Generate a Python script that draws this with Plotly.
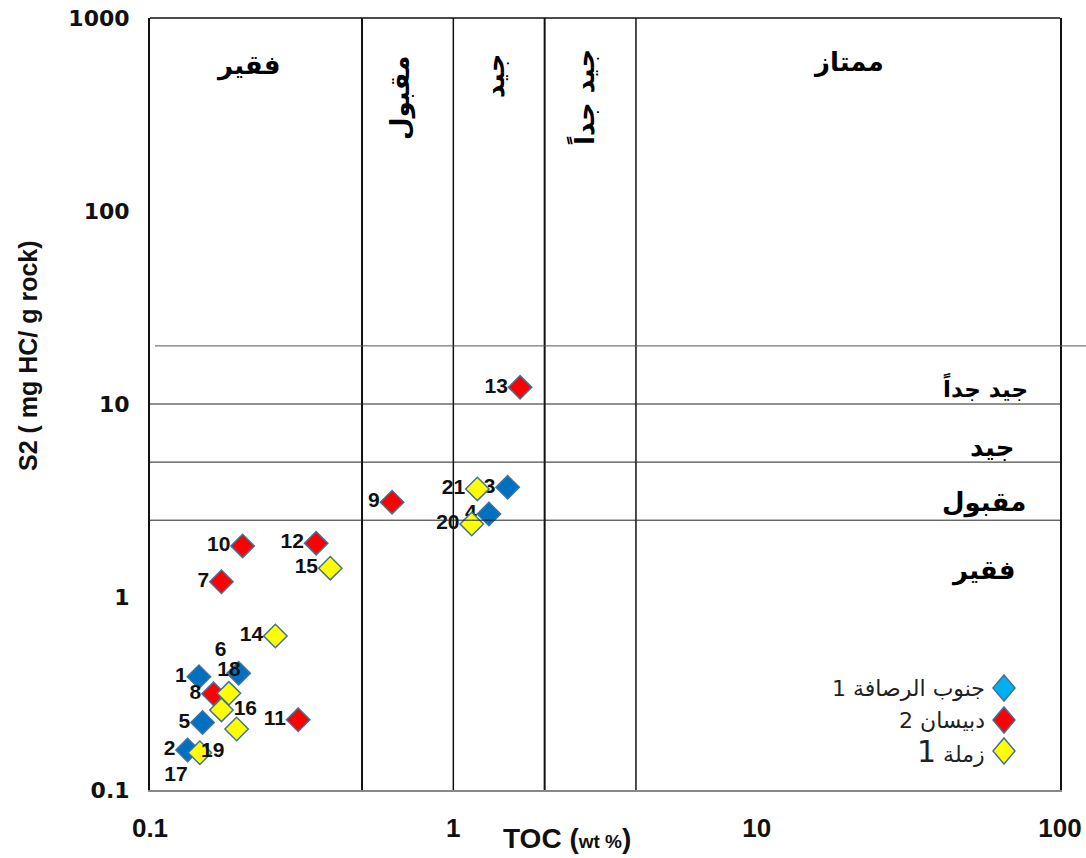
import plotly.graph_objects as go

# ---------------- data ----------------
blue_name = "جنوب الرصافة 1"
blue_ids = ["1", "2", "3", "4", "5", "6"]
blue_toc = [0.145, 0.133, 1.51, 1.31, 0.149, 0.196]
blue_s2 = [0.386, 0.161, 3.70, 2.69, 0.224, 0.403]
blue_pos = ["middle left", "middle left", "middle left", "middle left", "middle left", "top left"]

red_name = "دبيسان 2"
red_ids = ["7", "8", "9", "10", "11", "12", "13"]
red_toc = [0.172, 0.162, 0.628, 0.202, 0.308, 0.353, 1.66]
red_s2 = [1.20, 0.315, 3.10, 1.84, 0.231, 1.90, 12.2]
red_pos = ["middle left"] * 7

yellow_name = "زملة 1"
yellow_ids = ["14", "15", "16", "17", "18", "19", "20", "21"]
yellow_toc = [0.259, 0.393, 0.172, 0.146, 0.182, 0.193, 1.15, 1.20]
yellow_s2 = [0.628, 1.41, 0.260, 0.156, 0.317, 0.207, 2.39, 3.63]
yellow_pos = ["middle left", "middle left", "middle right", "bottom left",
              "top center", "bottom left", "middle left", "middle left"]

toc_limits = [0.5, 1, 2, 4]
s2_limits = [2.5, 5, 10, 20]

x_ticks = [0.1, 1, 10, 100]
x_ticktext = ["0.1", "1", "10", "100"]
y_ticks = [0.1, 1, 10, 100, 1000]
y_ticktext = ["0.1", "1", "10", "100", "1000"]

top_labels = ["فقير", "مقبول", "جيد", "جيد جداً", "ممتاز"]
right_labels = ["جيد جداً", "جيد", "مقبول", "فقير"]

# ---------------- layout geometry ----------------
W, H = 1086, 858
L, R, T, B = 150, 26, 18, 68
PW, PH = W - L - R, H - T - B


def px(X):
    return (X - L) / PW


def py(Y):
    return (H - B - Y) / PH


AR_FONT = "DejaVu Sans, Noto Sans, sans-serif"
NUM_FONT = "Liberation Sans, Arial, sans-serif"
EDGE = "#41719C"

fig = go.Figure()


def add_series(name, toc, s2, ids, pos, color):
    fig.add_trace(go.Scatter(
        x=toc, y=s2, mode="markers+text", name=name, text=ids,
        textposition=pos, showlegend=False, cliponaxis=False,
        textfont=dict(family=NUM_FONT, size=21, color="#111", weight="bold"),
        marker=dict(symbol="diamond", size=18, color=color,
                    line=dict(color=EDGE, width=1.5)),
    ))


add_series(blue_name, blue_toc, blue_s2, blue_ids, blue_pos, "#0070C0")
add_series(red_name, red_toc, red_s2, red_ids, red_pos, "#FF0000")
add_series(yellow_name, yellow_toc, yellow_s2, yellow_ids, yellow_pos, "#FFFF00")

shapes = []
# vertical TOC limits
for i, v in enumerate(toc_limits):
    shapes.append(dict(type="line", xref="x", yref="paper", x0=v, x1=v, y0=0, y1=1,
                       line=dict(color="#111", width=2 if i % 2 == 0 else 1.5)))
# horizontal S2 limits
for v in s2_limits:
    if v == 20:
        shapes.append(dict(type="line", xref="paper", yref="y", x0=px(155), x1=px(1088),
                           y0=v, y1=v, line=dict(color="#555", width=1)))
    else:
        shapes.append(dict(type="line", xref="paper", yref="y", x0=0, x1=1,
                           y0=v, y1=v, line=dict(color="#222", width=1)))
# top frame line
shapes.append(dict(type="line", xref="paper", yref="paper", x0=0, x1=1, y0=1, y1=1,
                   line=dict(color="#111", width=1.5)))

# custom legend (marker on the right of RTL text)
leg_colors = ["#00B0F0", "#FF0000", "#FFFF00"]
leg_names = [blue_name, red_name, yellow_name]
leg_y = [688, 720, 751]
annotations = []
for c, n, yy in zip(leg_colors, leg_names, leg_y):
    cx, cy = 1004, yy
    hw, hh = 11, 13
    path = (f"M {px(cx)},{py(cy - hh)} L {px(cx + hw)},{py(cy)} "
            f"L {px(cx)},{py(cy + hh)} L {px(cx - hw)},{py(cy)} Z")
    shapes.append(dict(type="path", xref="paper", yref="paper", path=path,
                       fillcolor=c, line=dict(color=EDGE, width=1.5)))
    txt = n
    if n == yellow_name:
        txt = "زملة <span style='font-size:30px'>1</span>"
    annotations.append(dict(xref="paper", yref="paper", x=px(987), y=py(yy),
                            xanchor="right", yanchor="middle", text=txt,
                            showarrow=False, font=dict(family=AR_FONT, size=22, color="#222")))

# zone labels on top
top_specs = [
    (top_labels[0], 248, 65, 0),
    (top_labels[1], 400, 98, -90),
    (top_labels[2], 495, 76, -90),
    (top_labels[3], 583, 97, -90),
    (top_labels[4], 848, 62, 0),
]
for t, X, Y, ang in top_specs:
    annotations.append(dict(xref="paper", yref="paper", x=px(X), y=py(Y),
                            xanchor="center", yanchor="middle", text=f"<b>{t}</b>",
                            textangle=ang, showarrow=False,
                            font=dict(family=AR_FONT, size=26, color="#000")))

right_specs = [(right_labels[0], 1030, 387, 23), (right_labels[1], 1016, 447, 26),
               (right_labels[2], 1028, 502, 26), (right_labels[3], 1018, 570, 26)]
for t, X, Y, fs in right_specs:
    annotations.append(dict(xref="paper", yref="paper", x=px(X), y=py(Y),
                            xanchor="right", yanchor="middle", text=f"<b>{t}</b>",
                            showarrow=False,
                            font=dict(family=AR_FONT, size=fs, color="#000")))

# axis titles
annotations.append(dict(xref="paper", yref="paper", x=px(567), y=py(838),
                        xanchor="center", yanchor="middle", showarrow=False,
                        text="<b>TOC (<span style='font-size:19px'>wt %</span>)</b>",
                        font=dict(family=NUM_FONT, size=28, color="#111")))
annotations.append(dict(xref="paper", yref="paper", x=px(28), y=py(356),
                        xanchor="center", yanchor="middle", showarrow=False,
                        textangle=-90, text="<b>S2 ( mg HC/ g rock)</b>",
                        font=dict(family=NUM_FONT, size=25, color="#111")))

fig.update_layout(
    width=W, height=H,
    margin=dict(l=L, r=R, t=T, b=B, autoexpand=False),
    paper_bgcolor="white", plot_bgcolor="white",
    showlegend=False,
    shapes=shapes, annotations=annotations,
    xaxis=dict(type="log", range=[-1, 2], showgrid=False, zeroline=False,
               tickvals=x_ticks, ticktext=x_ticktext, ticks="",
               ticklabelstandoff=14,
               tickfont=dict(family=NUM_FONT, size=26, color="#111", weight="bold"),
               showline=True, linecolor="#888", linewidth=2),
    yaxis=dict(type="log", range=[-1, 3], showgrid=False, zeroline=False,
               tickvals=y_ticks, ticktext=y_ticktext, ticks="",
               ticklabelstandoff=14,
               tickfont=dict(family="DejaVu Sans, sans-serif", size=22, color="#111", weight="bold"),
               showline=True, linecolor="#111", linewidth=2, mirror=True),
)

fig.write_html("out.html", config={"displayModeBar": False},
               post_script="document.body.style.margin='0';document.body.style.overflow='hidden';")
